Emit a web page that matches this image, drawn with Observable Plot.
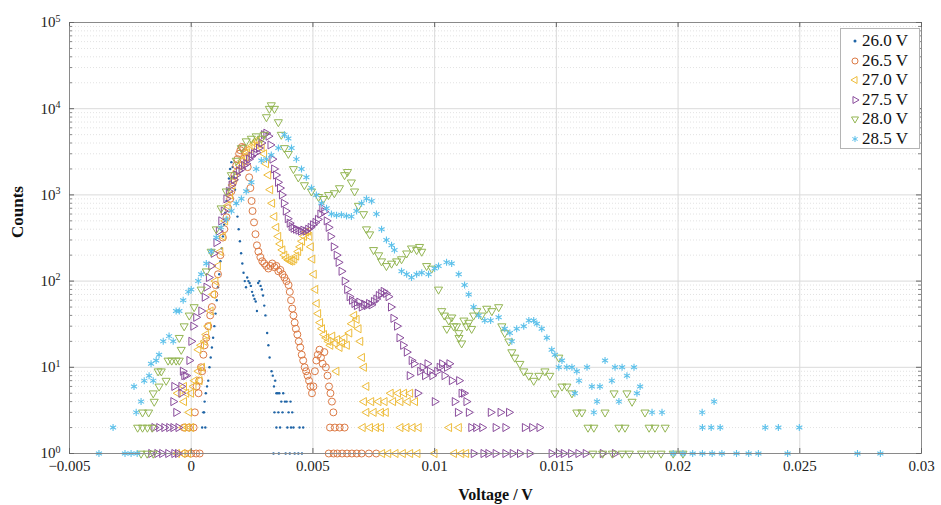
<!DOCTYPE html>
<html><head><meta charset="utf-8">
<script src="https://cdn.jsdelivr.net/npm/d3@7"></script>
<script src="https://cdn.jsdelivr.net/npm/@observablehq/plot@0.6"></script>
<style>
body{margin:0;background:#fff;}
#wrap{position:relative;width:941px;height:505px;overflow:hidden;}
#wrap svg text{font-family:"Liberation Serif",serif !important;}
.legend{position:absolute;left:840px;top:28px;width:80px;height:121px;border:1px solid #b4b4b4;background:#fff;font-family:"Liberation Serif",serif;font-size:17px;color:#111;box-sizing:border-box;}
.legend .row{position:absolute;left:0;height:20px;line-height:20px;white-space:nowrap;}
.legend svg{position:absolute;left:8px;top:4px;}
.legend span{position:absolute;left:21px;top:0;}
</style></head><body><div id="wrap"></div><script>
// ---- data: [voltage in mV, counts] ----
const series = ["26.0 V","26.5 V","27.0 V","27.5 V","28.0 V","28.5 V"];
const colors = ["#1f64a6","#dc7a45","#eebc3a","#8a4d9c","#93b552","#5cc0ea"];

const s26_0 = [[0.45,2],[0.5,3],[0.55,4],[0.6,5],[0.65,6],[0.7,7],[0.53,3],[0.58,2],[0.75,10],[0.8,13],[0.85,17],[0.9,22],[0.95,30],[1.0,42],[1.05,60],[1.1,85],[1.15,120],[1.2,170],[1.25,240],[1.3,330],[1.35,450],[1.4,620],[1.45,850],[1.5,1150],[1.55,1550],[1.6,2000],[1.65,2400],[1.7,2100],[1.75,1600],[1.8,1150],[1.85,800],[1.9,560],[1.95,400],[2.0,290],[2.05,210],[2.1,160],[2.15,125],[2.2,100],[2.25,85],[2.3,110],[2.35,100],[2.4,95],[2.45,88],[2.5,75],[2.55,68],[2.6,62],[2.65,58],[2.7,45],[2.75,95],[2.8,100],[2.85,88],[2.9,80],[2.95,68],[3.0,52],[3.05,40],[3.12,25],[3.17,18],[3.22,13],[3.3,9],[3.35,8],[3.4,6],[3.45,7],[3.5,5],[3.56,5],[3.62,5],[3.7,4],[3.78,5],[3.85,4],[3.92,4],[4.0,3],[4.08,4],[4.15,3],[3.42,3],[3.58,3],[3.75,3],[3.5,2],[3.65,2],[3.95,2],[4.1,2],[4.2,2],[4.45,2],[4.6,2],[3.38,1],[3.6,1],[3.88,1],[4.05,1],[4.25,1],[4.4,1],[4.55,1]];

const s26_5 = [[-0.25,1],[0.0,1],[0.2,1],[0.35,1],[-0.3,2],[-0.1,2],[0.1,2],[0.15,3],[0.3,5],[0.22,6],[0.33,7],[0.4,10],[0.45,9],[0.5,14],[0.55,18],[0.62,22],[0.7,30],[0.78,40],[0.85,50],[0.95,70],[1.0,90],[1.1,120],[1.2,200],[1.3,320],[1.36,400],[1.45,550],[1.52,700],[1.6,900],[1.65,1100],[1.72,1400],[1.77,1700],[1.85,2200],[1.9,2600],[1.97,3000],[2.02,3300],[2.08,3600],[2.14,3500],[2.2,3100],[2.26,2700],[2.32,2100],[2.38,1600],[2.43,1200],[2.48,850],[2.52,650],[2.58,480],[2.64,350],[2.7,260],[2.76,220],[2.84,190],[2.92,170],[3.0,160],[3.08,150],[3.17,140],[3.25,150],[3.33,160],[3.42,145],[3.5,150],[3.58,130],[3.66,135],[3.75,120],[3.83,110],[3.91,100],[4.0,90],[4.05,75],[4.1,60],[4.15,48],[4.2,40],[4.25,33],[4.3,28],[4.36,24],[4.42,20],[4.48,17],[4.54,14],[4.6,12],[4.66,10],[4.72,9],[4.78,8],[4.84,7],[4.9,6],[4.96,5],[5.02,6],[5.08,9],[5.14,12],[5.2,14],[5.27,16],[5.33,13],[5.4,11],[5.47,15],[5.53,10],[5.6,8],[5.66,6],[5.72,5],[5.78,4],[5.84,3],[5.7,2],[5.9,2],[6.1,2],[6.3,2],[5.65,1],[5.85,1],[6.0,1],[6.2,1],[6.4,1],[6.6,1],[6.8,1],[7.0,1],[7.3,1],[7.6,1]];

const s27_0 = [[-0.58,1],[-0.35,1],[-0.12,1],[-0.33,2],[-0.15,2],[0.0,2],[-0.08,3],[-0.29,4],[-0.55,5],[-0.2,5],[0.0,5],[-0.29,6],[0.1,6],[0.15,7],[0.35,7],[0.3,9],[0.45,10],[0.3,16],[0.41,18],[0.55,20],[0.62,24],[0.7,30],[0.8,45],[0.9,70],[1.0,100],[1.1,150],[1.2,220],[1.3,330],[1.4,500],[1.5,750],[1.6,1000],[1.7,1300],[1.8,1600],[1.9,1900],[2.0,2200],[2.1,2500],[2.2,2800],[2.3,3100],[2.4,3400],[2.5,3700],[2.6,4000],[2.7,4300],[2.8,3900],[2.9,3500],[3.0,3000],[3.08,2300],[3.17,1700],[3.25,1150],[3.33,800],[3.42,560],[3.5,420],[3.58,330],[3.66,270],[3.75,230],[3.83,200],[3.91,185],[4.0,175],[4.08,170],[4.16,172],[4.24,180],[4.32,195],[4.4,220],[4.48,250],[4.56,290],[4.64,330],[4.72,370],[4.8,380],[4.86,330],[4.92,250],[4.98,180],[5.04,120],[5.1,80],[5.16,55],[5.22,42],[5.3,33],[5.38,28],[5.46,24],[5.55,22],[5.64,20],[5.72,18],[5.8,23],[5.9,19],[6.0,21],[6.1,17],[6.2,19],[6.3,22],[6.4,18],[6.5,25],[6.6,32],[6.7,40],[6.8,36],[6.88,28],[6.95,20],[7.02,13],[7.1,10],[7.2,6],[5.97,9],[7.1,4],[7.4,4],[7.7,4],[7.95,4],[8.3,4],[8.6,4],[8.9,4],[9.2,4],[8.2,5],[8.5,5],[8.75,5],[9.0,5],[7.2,3],[7.5,3],[7.8,3],[8.0,3],[7.05,2],[7.35,2],[7.6,2],[7.8,2],[8.6,2],[8.85,2],[9.1,2],[9.35,2],[10.6,2],[11.0,2],[7.85,1],[8.1,1],[8.4,1],[8.7,1],[9.0,1],[9.3,1],[10.0,1],[10.8,1],[11.1,1],[11.3,1]];

const s27_5 = [[-1.65,1],[-1.4,1],[-1.2,1],[-0.95,1],[-0.7,1],[-0.55,1],[-1.52,2],[-1.32,2],[-1.11,2],[-0.91,2],[-0.74,2],[-0.53,2],[-0.62,3],[-0.74,4],[-0.7,6],[-0.41,5],[-0.41,6],[-0.35,9],[-0.29,8],[-0.21,8],[-0.08,12],[0.0,20],[0.08,30],[0.2,38],[0.41,45],[0.55,65],[0.62,85],[0.72,110],[0.82,150],[0.92,210],[1.03,280],[1.13,380],[1.23,500],[1.33,650],[1.44,900],[1.54,1100],[1.65,1300],[1.75,1500],[1.85,1700],[1.95,1900],[2.06,2000],[2.16,2200],[2.26,2300],[2.37,2600],[2.47,2800],[2.57,3000],[2.67,3100],[2.78,3500],[2.88,4000],[2.98,5000],[3.08,5200],[3.17,4800],[3.25,3800],[3.33,2600],[3.4,2000],[3.48,1700],[3.56,1400],[3.64,1200],[3.72,1000],[3.8,800],[3.88,650],[3.96,530],[4.04,470],[4.12,430],[4.2,410],[4.3,400],[4.4,390],[4.5,380],[4.6,390],[4.7,380],[4.8,400],[4.9,420],[5.0,450],[5.1,480],[5.2,520],[5.3,600],[5.38,700],[5.46,640],[5.56,500],[5.64,420],[5.72,330],[5.85,250],[5.97,200],[6.05,165],[6.17,130],[6.3,100],[6.4,80],[6.5,66],[6.6,60],[6.7,55],[6.8,52],[6.9,57],[7.0,50],[7.1,54],[7.2,52],[7.3,55],[7.4,53],[7.5,58],[7.6,62],[7.7,68],[7.8,72],[7.9,76],[8.0,72],[8.1,66],[8.2,50],[8.3,37],[8.45,30],[8.55,22],[8.7,18],[8.85,15],[8.97,8],[9.05,12],[9.15,11],[9.3,5],[9.4,9],[9.5,10],[9.6,8],[9.7,11],[9.8,9],[9.9,8],[10.0,4],[10.1,9],[10.2,10],[10.3,11],[10.4,8],[10.5,10],[10.6,11],[10.7,7],[10.82,4],[10.95,3],[11.0,7],[11.1,5],[11.2,5],[11.3,4],[11.4,3],[11.5,2],[11.7,2],[11.95,2],[12.3,3],[12.5,2],[12.7,3],[12.9,2],[13.05,3],[13.7,2],[14.0,2],[14.3,2],[11.6,1],[12.0,1],[12.2,1],[12.5,1],[12.9,1],[13.2,1],[13.5,1],[13.9,1],[14.8,1],[15.1,1],[15.3,1],[15.6,1],[15.9,1],[16.2,1],[16.9,1],[17.4,1]];

const s28_0 = [[-2.06,1],[-1.81,1],[-1.56,1],[-2.2,2],[-2.0,2],[-1.8,2],[-1.6,2],[-2.0,3],[-1.75,3],[-1.52,4],[-1.56,5],[-1.32,6],[-1.36,9],[-1.23,9],[-1.03,7],[-0.95,12],[-0.8,12],[-0.62,12],[-0.49,12],[-0.41,16],[-0.49,22],[-0.29,30],[-0.08,40],[0.12,50],[0.41,80],[0.62,130],[0.82,220],[1.03,400],[1.23,700],[1.44,1100],[1.65,1700],[1.85,2500],[2.06,3500],[2.26,4200],[2.47,4500],[2.67,4800],[2.88,4500],[3.0,5000],[3.09,8000],[3.21,10000],[3.29,11000],[3.42,10000],[3.58,7000],[3.7,5000],[3.83,3500],[3.99,3000],[4.2,2000],[4.4,1600],[4.65,1300],[4.94,1100],[5.23,950],[5.43,900],[5.64,1000],[5.88,1050],[6.09,1200],[6.3,1700],[6.42,1850],[6.58,1400],[6.71,1100],[6.87,750],[7.08,600],[7.2,400],[7.33,350],[7.49,230],[7.7,200],[7.82,170],[8.02,150],[8.23,160],[8.44,170],[8.64,180],[8.85,210],[9.05,240],[9.26,230],[9.38,250],[9.47,220],[9.67,150],[9.88,140],[10.16,80],[10.29,45],[10.4,40],[10.5,28],[10.58,35],[10.7,38],[10.78,30],[10.9,30],[10.99,25],[11.0,22],[11.11,19],[11.2,35],[11.32,30],[11.4,33],[11.52,28],[11.6,40],[11.73,45],[11.93,40],[12.14,48],[12.35,45],[12.63,50],[12.76,30],[12.88,25],[13.05,20],[13.17,15],[13.29,13],[13.5,11],[13.66,9],[13.87,8],[14.07,7],[14.28,8],[14.53,9],[14.73,8],[14.94,5],[15.1,13],[15.23,6],[15.43,6],[15.64,5],[15.84,3],[16.05,3],[16.3,2],[16.54,2],[17.0,3],[17.37,5],[17.57,2],[17.82,2],[17.9,5],[18.11,4],[18.64,3],[18.81,2],[19.05,2],[19.47,2],[16.5,1],[16.9,1],[17.3,1],[17.7,1],[18.0,1],[18.5,1],[18.9,1],[19.3,1],[19.8,1],[20.2,1]];

const s28_5 = [[-3.79,1],[-2.72,1],[-2.47,1],[-2.22,1],[-3.21,2],[-2.26,3],[-2.35,6],[-2.06,4],[-1.93,7],[-1.73,8],[-1.56,7],[-1.65,11],[-1.44,12],[-1.32,14],[-1.15,20],[-0.91,23],[-0.74,20],[-0.62,45],[-0.49,45],[-0.33,60],[-0.12,75],[0.0,80],[0.29,100],[0.41,120],[0.62,160],[0.82,220],[1.03,320],[1.23,420],[1.44,520],[1.65,650],[1.85,800],[2.06,900],[2.26,1100],[2.47,1400],[2.67,2000],[2.88,2500],[3.09,2600],[3.29,2900],[3.58,3500],[3.83,5000],[3.99,4500],[4.12,3500],[4.32,2600],[4.53,2000],[4.73,1600],[4.94,1200],[5.14,1000],[5.35,800],[5.56,700],[5.76,600],[5.97,580],[6.17,590],[6.38,570],[6.58,560],[6.79,650],[7.0,800],[7.2,900],[7.41,850],[7.61,600],[7.82,400],[8.02,300],[8.23,260],[8.35,230],[8.64,130],[8.85,120],[9.05,110],[9.26,120],[9.47,125],[9.75,120],[10.0,140],[10.16,150],[10.49,165],[10.7,160],[10.99,120],[11.23,90],[11.4,70],[11.6,50],[11.81,40],[12.06,35],[12.3,35],[12.63,38],[12.88,28],[13.09,25],[13.17,20],[13.37,28],[13.66,30],[13.87,35],[14.07,35],[14.2,32],[14.4,28],[14.61,22],[14.81,16],[14.94,14],[15.23,12],[15.1,10],[15.43,10],[15.64,10],[15.84,9],[15.76,5],[15.93,7],[16.26,10],[16.46,6],[16.79,6],[16.67,4],[16.54,3],[17.0,12],[17.28,7],[17.41,10],[17.57,4],[17.7,10],[17.9,8],[18.19,10],[18.31,5],[18.44,6],[18.93,3],[19.34,3],[20.99,3],[21.48,4],[21.0,2],[21.36,2],[21.73,2],[23.58,2],[24.12,2],[24.98,2],[19.8,1],[20.2,1],[20.6,1],[21.0,1],[21.4,1],[21.8,1],[22.4,1],[22.9,1],[23.3,1],[24.5,1],[27.37,1],[28.31,1]];

// ---- axes ----
const xTicks = [-0.005, 0, 0.005, 0.01, 0.015, 0.02, 0.025, 0.03];
const xTickLabels = ["\u22120.005", "0", "0.005", "0.01", "0.015", "0.02", "0.025", "0.03"];
const yTicks = [1, 10, 100, 1000, 10000, 100000];
const yTickExps = ["0", "1", "2", "3", "4", "5"];
const yMinorMult = [2, 3, 4, 5, 6, 7, 8, 9];
const xLabel = "Voltage / V";
const yLabel = "Counts";

const W = 941, H = 505, mL = 69, mR = 20, mT = 22, mB = 52;
const pW = W - mL - mR, pH = H - mT - mB;
const yMinor = yTicks.slice(0, -1).flatMap(d => yMinorMult.map(m => d * m));
const xLab = new Map(xTicks.map((d, i) => [d, xTickLabels[i]]));
const yLab = new Map(yTicks.map((d, i) => [d, "10^" + yTickExps[i]]));

const dataSets = [s26_0, s26_5, s27_0, s27_5, s28_0, s28_5];
const rows = dataSets.map((arr, k) => arr.map(([v, c]) => ({v: v / 1000, c, k})));

const styles = [
  {symbol: "circle", r: 1.2, fill: colors[0], stroke: "none"},
  {symbol: "circle", r: 3.5, fill: "none", stroke: colors[1], strokeWidth: 1},
  {symbol: "triangle", r: 3.0, fill: "none", stroke: colors[2], strokeWidth: 1, rotate: -90},
  {symbol: "triangle", r: 3.0, fill: "none", stroke: colors[3], strokeWidth: 1, rotate: 90},
  {symbol: "triangle", r: 3.0, fill: "none", stroke: colors[4], strokeWidth: 1, rotate: 180},
  {symbol: "asterisk", r: 3.3, fill: "none", stroke: colors[5], strokeWidth: 1.1}
];

const gridC = "#dadada";
const marks = [
  Plot.ruleY(yMinor, {stroke: "#e2e2e2", strokeDasharray: "1,2"}),
  Plot.ruleY(yTicks, {stroke: gridC}),
  Plot.ruleX(xTicks, {stroke: gridC}),
  ...rows.map((r, k) => Plot.dot(r, {x: "v", y: "c", ...styles[k]})),
  Plot.frame({stroke: "#8a8a8a"}),
  // inward ticks (MATLAB style)
  Plot.tickX(xTicks, {x: d => d, insetTop: pH - 5, stroke: "#666"}),
  Plot.tickX(xTicks, {x: d => d, insetBottom: pH - 5, stroke: "#666"}),
  Plot.tickY(yTicks, {y: d => d, insetRight: pW - 5, stroke: "#666"}),
  Plot.tickY(yMinor, {y: d => d, insetRight: pW - 3, stroke: "#888"}),
  Plot.tickY(yTicks, {y: d => d, insetLeft: pW - 5, stroke: "#666"}),
  Plot.tickY(yMinor, {y: d => d, insetLeft: pW - 3, stroke: "#888"}),
  Plot.axisX(xTicks, {tickSize: 0, tickPadding: 7, tickFormat: d => xLab.get(d), fontSize: 15, label: null}),
  Plot.axisY(yTicks, {tickSize: 0, tickPadding: 9, tickFormat: d => yLab.get(d), fontSize: 15, label: null}),
  Plot.text([xLabel], {frameAnchor: "bottom", dy: 46, fontSize: 16, fontWeight: "bold", fill: "#111"}),
  Plot.text([yLabel], {frameAnchor: "left", dx: -52, rotate: -90, fontSize: 17, fontWeight: "bold", fill: "#111"})
];

const chart = Plot.plot({
  width: W, height: H,
  marginLeft: mL, marginRight: mR, marginTop: mT, marginBottom: mB,
  style: {fontFamily: "Liberation Serif", fontSize: "15px", color: "#222", background: "#fff", overflow: "visible"},
  x: {domain: [-0.005, 0.03]},
  y: {type: "log", domain: [1, 100000]},
  marks
});

// superscript exponents on the y tick labels
const ns = "http://www.w3.org/2000/svg";
chart.querySelectorAll('g[aria-label="y-axis tick label"] text').forEach(t => {
  const parts = t.textContent.split("^");
  if (parts.length !== 2) return;
  t.textContent = "";
  const a = document.createElementNS(ns, "tspan"); a.textContent = parts[0];
  const b = document.createElementNS(ns, "tspan"); b.textContent = parts[1];
  b.setAttribute("dy", "-0.55em"); b.setAttribute("font-size", "10px");
  t.appendChild(a); t.appendChild(b);
});

const wrap = document.getElementById("wrap");
wrap.appendChild(chart);

// legend
const leg = document.createElement("div");
leg.className = "legend";
series.forEach((name, k) => {
  const row = document.createElement("div");
  row.className = "row";
  row.style.top = (2 + k * 19.5) + "px";
  const s = styles[k];
  const sym = {circle: d3.symbolCircle, triangle: d3.symbolTriangle, asterisk: d3.symbolAsterisk}[s.symbol];
  const path = d3.symbol(sym, Math.PI * s.r * s.r * (k === 0 ? 1.6 : 0.75))();
  const svgM = `<svg width="12" height="12" viewBox="-6 -6 12 12"><path d="${path}" transform="rotate(${s.rotate || 0})" fill="${s.fill}" stroke="${s.stroke}" stroke-width="1"/></svg>`;
  row.innerHTML = svgM + `<span>${name}</span>`;
  leg.appendChild(row);
});
wrap.appendChild(leg);
</script></body></html>
